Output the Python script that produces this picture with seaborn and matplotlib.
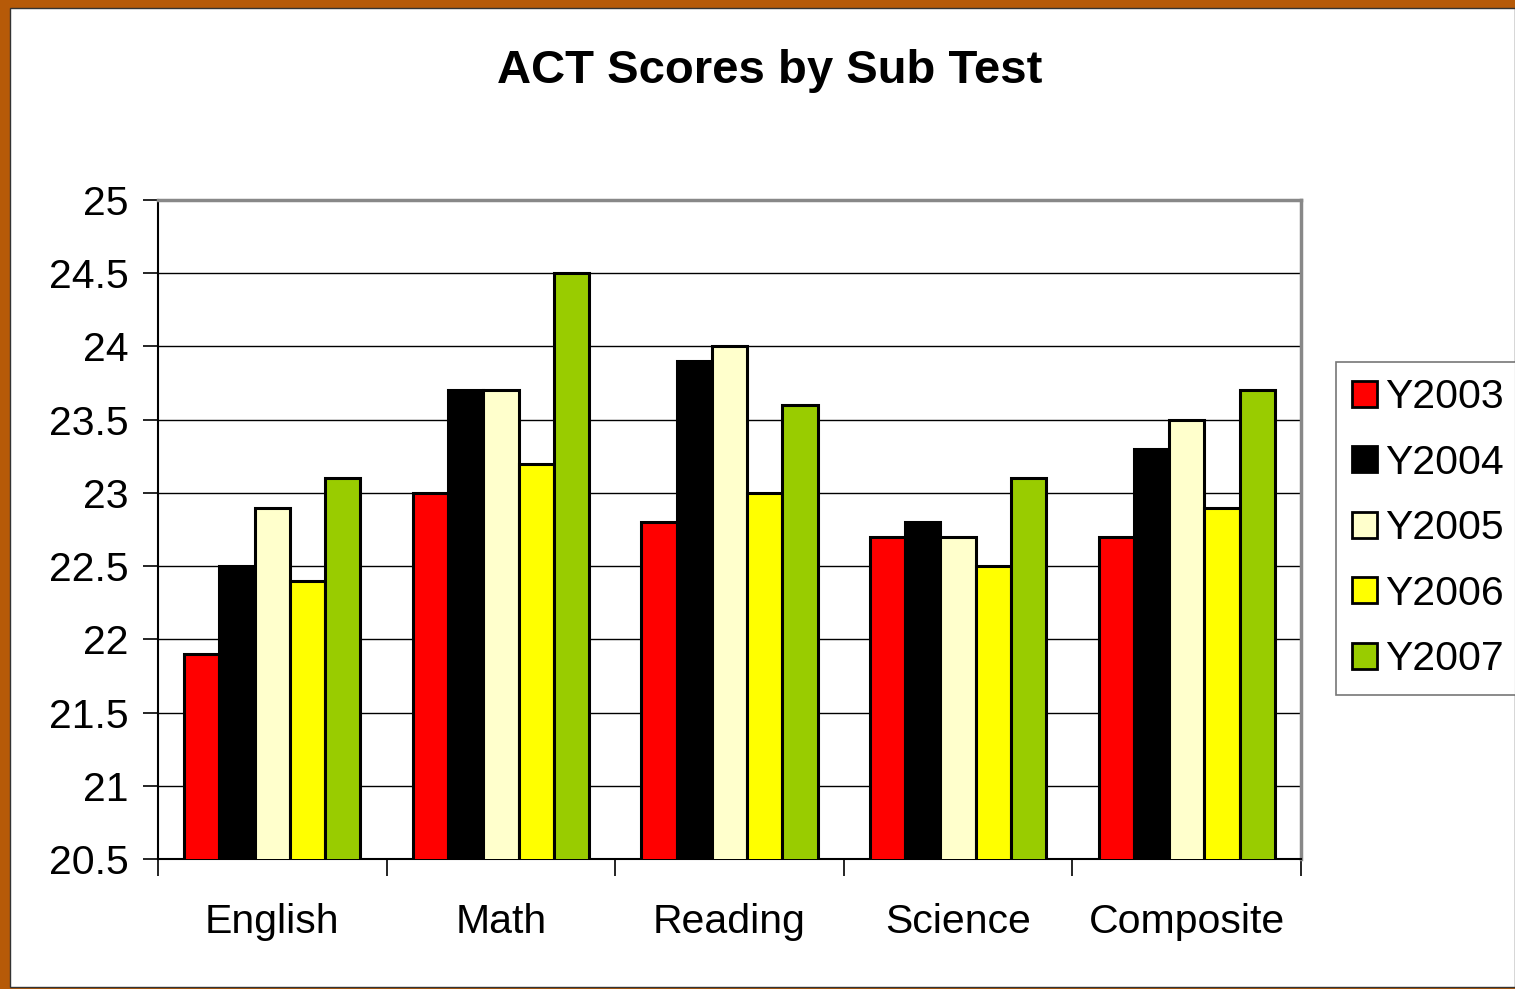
import pandas as pd
import matplotlib
matplotlib.use("Agg")
import matplotlib.pyplot as plt
import seaborn as sns
from matplotlib.patches import Rectangle

# Data
subtests = ["English", "Math", "Reading", "Science", "Composite"]
years = ["Y2003", "Y2004", "Y2005", "Y2006", "Y2007"]
y2003 = [21.9, 23.0, 22.8, 22.7, 22.7]
y2004 = [22.5, 23.7, 23.9, 22.8, 23.3]
y2005 = [22.9, 23.7, 24.0, 22.7, 23.5]
y2006 = [22.4, 23.2, 23.0, 22.5, 22.9]
y2007 = [23.1, 24.5, 23.6, 23.1, 23.7]
yticks = [20.5, 21, 21.5, 22, 22.5, 23, 23.5, 24, 24.5, 25]
colors = ["#FF0000", "#000000", "#FFFFCC", "#FFFF00", "#99CC00"]

# Long-form table for seaborn
rows = []
for year, vals in zip(years, [y2003, y2004, y2005, y2006, y2007]):
    for sub, v in zip(subtests, vals):
        rows.append({"subtest": sub, "year": year, "score": v})
df = pd.DataFrame(rows)

sns.set_style("white")
plt.rcParams["font.family"] = ["Liberation Sans", "DejaVu Sans"]
plt.rcParams["text.color"] = "black"
plt.rcParams["xtick.color"] = "black"
plt.rcParams["ytick.color"] = "black"

fig = plt.figure(figsize=(15.15, 9.89), dpi=100)
fig.patch.set_facecolor("#B65A08")
# white slide area inside the orange frame
fig.add_artist(Rectangle((10 / 1515, 2 / 989), 1 - 10 / 1515, 1 - 10 / 989,
                         transform=fig.transFigure, facecolor="white",
                         edgecolor="#333333", linewidth=1, zorder=-10))

ax = fig.add_axes([158 / 1515, 1 - 859 / 989, (1301 - 158) / 1515, (859 - 200) / 989])
ax.set_facecolor("white")

sns.barplot(data=df, x="subtest", y="score", hue="year", order=subtests,
            hue_order=years, palette=colors, width=0.77, edgecolor="black",
            linewidth=2.2, saturation=1, ax=ax, zorder=3)

ax.set_ylim(20.5, 25)
ax.set_xlim(-0.5, 4.5)
ax.set_yticks(yticks)
ax.set_yticklabels([f"{t:g}" for t in yticks], fontsize=29.5)
ax.yaxis.grid(True, color="black", linewidth=1)
ax.set_axisbelow(True)

# category labels at centres, tick marks at the boundaries
ax.set_xticks(range(len(subtests)))
ax.set_xticklabels(subtests, fontsize=29.5)
ax.set_xticks([i - 0.5 for i in range(len(subtests) + 1)], minor=True)
ax.tick_params(axis="x", which="major", length=0, pad=32, bottom=True)
ax.tick_params(axis="x", which="minor", length=12, width=1.2, color="black",
               direction="out", bottom=True)
ax.tick_params(axis="y", length=11, width=1.2, color="black", direction="out",
               pad=10, left=True)

ax.set_xlabel("")
ax.set_ylabel("")

for side in ["top", "right"]:
    ax.spines[side].set_color("#888888")
    ax.spines[side].set_linewidth(2.5)
for side in ["left", "bottom"]:
    ax.spines[side].set_color("black")
    ax.spines[side].set_linewidth(1.5)

fig.text(770 / 1515, 1 - 71 / 989, "ACT Scores by Sub Test", ha="center", va="center",
         fontsize=34, fontweight="bold")

ax.legend_.remove()
handles, labels = ax.get_legend_handles_labels()
leg = fig.legend(handles, labels, loc="upper left", bbox_to_anchor=(1336 / 1515, 1 - 362 / 989),
                 bbox_transform=fig.transFigure, fontsize=29.5, frameon=True, fancybox=False,
                 handlelength=0.6, handleheight=0.6, handletextpad=0.2, labelspacing=0.67,
                 borderpad=0.4, borderaxespad=0)
leg.get_frame().set_edgecolor("#555555")
leg.get_frame().set_linewidth(1.2)
for h in leg.legend_handles:
    h.set_edgecolor("black")
    h.set_linewidth(2)

fig.savefig("out.png", dpi=100, facecolor=fig.get_facecolor())
